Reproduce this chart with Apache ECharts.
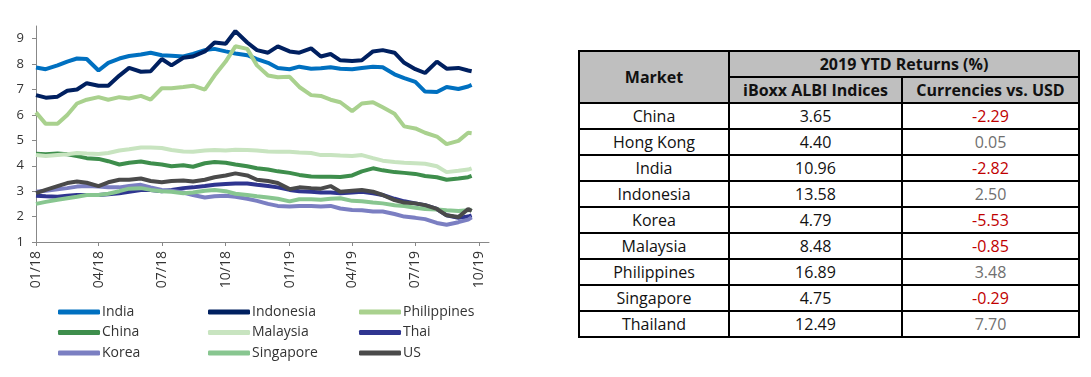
<!DOCTYPE html>
<html>
<head>
<meta charset="utf-8">
<script src="https://cdn.jsdelivr.net/npm/echarts@6/dist/echarts.min.js"></script>
<style>
  body { margin: 0; background: #fff; }
  #main { position: absolute; left: 0; top: 0; width: 500px; height: 377px; }
  #tbl {
    position: absolute; left: 578px; top: 50px; width: 500px;
    border-collapse: collapse; table-layout: fixed;
    font-family: "Open Sans", sans-serif; font-size: 16px; color: #111;
  }
  #tbl td, #tbl th { border: 2px solid #000; text-align: center; padding: 0; height: 24px; line-height: 22px; }
  #tbl th { background: #bfbfbf; font-weight: bold; }
  .neg { color: #c00000; }
  .pos { color: #6f6f6f; }
</style>
</head>
<body>
<div id="main"></div>
<table id="tbl"></table>
<script>
// 日期（半月取样）
var dates = ['2018-01-01','2018-01-15','2018-02-01','2018-02-15','2018-03-01','2018-03-15','2018-04-01','2018-04-15',
  '2018-05-01','2018-05-15','2018-06-01','2018-06-15','2018-07-01','2018-07-15','2018-08-01','2018-08-15',
  '2018-09-01','2018-09-15','2018-10-01','2018-10-15','2018-11-01','2018-11-15','2018-12-01','2018-12-15',
  '2019-01-01','2019-01-15','2019-02-01','2019-02-15','2019-03-01','2019-03-15','2019-04-01','2019-04-15',
  '2019-05-01','2019-05-15','2019-06-01','2019-06-15','2019-07-01','2019-07-15','2019-08-01','2019-08-15',
  '2019-09-01','2019-09-15','2019-09-20'];
var tickDates = ['2018-01-01','2018-04-01','2018-07-01','2018-10-01','2019-01-01','2019-04-01','2019-07-01','2019-10-01'];
var yTicks = [1, 2, 3, 4, 5, 6, 7, 8, 9];

var india = [7.87,7.8,7.95,8.1,8.22,8.2,7.75,8.05,8.22,8.32,8.38,8.45,8.35,8.33,8.3,8.4,8.55,8.6,8.5,8.42,8.35,8.2,8.05,7.85,
  7.8,7.9,7.82,7.84,7.88,7.82,7.8,7.85,7.9,7.88,7.6,7.45,7.3,6.92,6.9,7.1,7.02,7.12,7.18];
var indonesia = [6.78,6.68,6.72,6.95,7.0,7.25,7.15,7.15,7.55,7.85,7.7,7.72,8.2,7.95,8.25,8.3,8.5,8.85,8.8,9.3,8.85,8.55,8.45,8.7,
  8.5,8.45,8.62,8.3,8.4,8.15,8.12,8.15,8.5,8.55,8.45,8.05,7.8,7.65,8.1,7.82,7.85,7.75,7.72];
var philippines = [6.1,5.65,5.65,6.0,6.45,6.6,6.7,6.6,6.7,6.65,6.75,6.6,7.05,7.05,7.1,7.15,7.0,7.55,8.1,8.7,8.6,7.95,7.55,7.48,
  7.5,7.1,6.78,6.75,6.6,6.5,6.15,6.45,6.5,6.3,6.05,5.55,5.47,5.3,5.15,4.85,4.98,5.3,5.28];
var china = [4.47,4.45,4.48,4.45,4.38,4.3,4.27,4.18,4.05,4.12,4.17,4.1,4.05,3.98,4.02,3.96,4.1,4.15,4.12,4.05,3.98,3.9,3.85,3.78,
  3.72,3.64,3.58,3.57,3.57,3.56,3.62,3.78,3.9,3.82,3.75,3.72,3.68,3.6,3.55,3.45,3.5,3.55,3.6];
var malaysia = [4.42,4.38,4.42,4.45,4.5,4.48,4.46,4.5,4.6,4.65,4.72,4.72,4.7,4.62,4.56,4.55,4.6,4.62,4.6,4.63,4.62,4.6,4.56,4.55,
  4.55,4.52,4.5,4.42,4.42,4.4,4.38,4.42,4.3,4.2,4.15,4.12,4.1,4.08,3.98,3.75,3.8,3.85,3.9];
var thai = [2.82,2.8,2.78,2.82,2.85,2.85,2.85,2.88,2.92,2.98,3.05,3.05,3.0,3.05,3.12,3.15,3.2,3.25,3.28,3.3,3.3,3.25,3.2,3.15,
  3.05,3.0,2.98,2.95,2.95,2.92,2.95,2.98,2.92,2.85,2.7,2.6,2.52,2.45,2.3,2.05,1.95,2.0,2.05];
var korea = [2.98,3.02,3.08,3.12,3.18,3.2,3.18,3.15,3.15,3.2,3.25,3.15,3.05,3.02,2.95,2.85,2.75,2.8,2.82,2.78,2.7,2.62,2.5,2.42,
  2.4,2.42,2.42,2.4,2.42,2.32,2.26,2.25,2.2,2.2,2.1,2.0,1.95,1.9,1.75,1.68,1.78,1.88,1.97];
var singapore = [2.5,2.58,2.66,2.72,2.78,2.85,2.85,2.9,3.0,3.1,3.12,3.05,3.0,2.98,2.92,2.95,3.02,3.05,3.0,2.9,2.85,2.8,2.75,2.7,
  2.6,2.68,2.68,2.66,2.7,2.72,2.62,2.6,2.55,2.52,2.45,2.42,2.35,2.3,2.28,2.25,2.22,2.25,2.27];
var us = [2.92,3.05,3.2,3.32,3.38,3.33,3.2,3.35,3.45,3.45,3.5,3.4,3.35,3.4,3.42,3.38,3.45,3.55,3.62,3.7,3.62,3.45,3.4,3.32,
  3.08,3.15,3.12,3.1,3.2,2.98,3.02,3.05,2.98,2.85,2.65,2.55,2.52,2.45,2.3,2.05,1.98,2.3,2.22];

// 表格数据
var markets = ['China','Hong Kong','India','Indonesia','Korea','Malaysia','Philippines','Singapore','Thailand'];
var albiReturns = ['3.65','4.40','10.96','13.58','4.79','8.48','16.89','4.75','12.49'];
var fxReturns = ['-2.29','0.05','-2.82','2.50','-5.53','-0.85','3.48','-0.29','7.70'];

// 表格
var html = '<colgroup><col style="width:150px"><col style="width:173px"><col style="width:177px"></colgroup>';
html += '<tr><th rowspan="2">Market</th><th colspan="2">2019 YTD Returns (%)</th></tr>';
html += '<tr><th>iBoxx ALBI Indices</th><th>Currencies vs. USD</th></tr>';
for (var i = 0; i < markets.length; i++) {
  var cls = fxReturns[i].charAt(0) === '-' ? 'neg' : 'pos';
  html += '<tr><td>' + markets[i] + '</td><td>' + albiReturns[i] + '</td><td class="' + cls + '">' + fxReturns[i] + '</td></tr>';
}
document.getElementById('tbl').innerHTML = html;

var seriesDefs = [
  { name: 'India', data: india, color: '#0070c0' },
  { name: 'Indonesia', data: indonesia, color: '#002060' },
  { name: 'Philippines', data: philippines, color: '#a9d18e' },
  { name: 'China', data: china, color: '#3e8e4c' },
  { name: 'Malaysia', data: malaysia, color: '#c8e4c0' },
  { name: 'Thai', data: thai, color: '#2f3590' },
  { name: 'Korea', data: korea, color: '#7b7fc2' },
  { name: 'Singapore', data: singapore, color: '#88c690' },
  { name: 'US', data: us, color: '#4a4a4a' }
];

function ts(s) { return +echarts.time.parse(s); }
function pad(n) { return n < 10 ? '0' + n : '' + n; }

var series = seriesDefs.map(function (d) {
  return {
    name: d.name,
    type: 'line',
    showSymbol: false,
    symbol: 'none',
    color: d.color,
    lineStyle: { width: 4, color: d.color },
    emphasis: { disabled: true },
    data: d.data.map(function (v, i) { return [ts(dates[i]), v]; })
  };
});

function legendCol(left, names) {
  return {
    orient: 'vertical', left: left, top: 305, itemGap: 6.5, padding: 0,
    itemWidth: 42, itemHeight: 5, icon: 'roundRect',
    textStyle: { fontFamily: 'Open Sans', fontSize: 14, color: '#333', padding: [0, 0, 0, -3] },
    data: names
  };
}

var myChart = echarts.init(document.getElementById('main'));
myChart.setOption({
  animation: false,
  grid: { left: 36, right: 11, top: 26, bottom: 135 },
  legend: [
    legendCol(58, ['India', 'China', 'Korea']),
    legendCol(208, ['Indonesia', 'Malaysia', 'Singapore']),
    legendCol(359, ['Philippines', 'Thai', 'US'])
  ],
  xAxis: {
    type: 'value',
    min: ts('2018-01-01'),
    max: ts('2019-10-15'),
    splitLine: { show: false },
    axisLine: { lineStyle: { color: '#888', width: 1 } },
    axisTick: { show: true, length: 4, lineStyle: { color: '#888' }, customValues: tickDates.map(ts) },
    axisLabel: {
      rotate: 90, margin: 9, fontFamily: 'Open Sans', fontSize: 14, color: '#333',
      customValues: tickDates.map(ts),
      formatter: function (v) {
        var d = new Date(v);
        return pad(d.getMonth() + 1) + '/' + pad(d.getFullYear() % 100);
      }
    }
  },
  yAxis: {
    type: 'value',
    min: 1, max: 9.5, interval: 1,
    splitLine: { show: false },
    axisLine: { show: true, lineStyle: { color: '#888', width: 1 } },
    axisTick: { show: true, length: 4, lineStyle: { color: '#888' }, customValues: yTicks },
    axisLabel: { margin: 12, fontFamily: 'Open Sans', fontSize: 13, color: '#333', customValues: yTicks }
  },
  series: series
});
</script>
</body>
</html>
